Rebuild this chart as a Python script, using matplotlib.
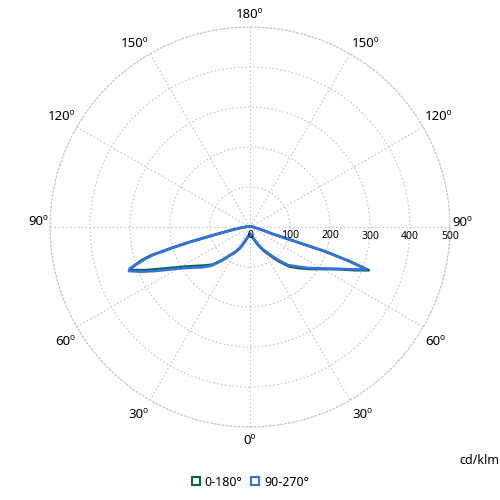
import numpy as np
import matplotlib
matplotlib.use("Agg")
import matplotlib.pyplot as plt
from matplotlib.lines import Line2D

plt.rcParams['font.family'] = ['Noto Sans', 'DejaVu Sans']

# gamma angles (deg from nadir) and intensities in cd/klm
gamma = [0, 5, 10, 15, 20, 25, 30, 35, 40, 45, 50, 55, 60, 65, 67.5, 70, 71,
         72, 73, 74, 75, 76, 78, 80, 85, 90, 105, 120, 135, 150, 165, 180]

# plane C0 (right) / C180 (left)
c0 = [17.5, 19.5, 23, 28, 37, 52, 68, 86, 112, 140, 160, 183, 210, 250, 282, 316, 265,
      198, 62, 48, 40, 33, 24, 18, 11, 8, 5, 3, 2, 2, 2, 2]
c180 = [17.5, 19.5, 24, 30, 41, 58, 72, 86, 108, 133, 150, 170, 200, 248, 282, 316, 312,
        298, 282, 258, 205, 160, 85, 55, 24, 12, 5, 3, 2, 2, 2, 2]

# plane C90 (right) / C270 (left)
c90 = [17.5, 19.5, 23, 27, 36, 50, 64, 81, 106, 135, 154, 179, 207, 248, 277, 310, 261,
       195, 58, 48, 40, 33, 24, 18, 11, 8, 5, 3, 2, 2, 2, 2]
c270 = [17.5, 19.5, 23, 28, 38, 55, 70, 85, 110, 137, 157, 177, 208, 260, 292, 322, 318,
        294, 275, 250, 195, 150, 77, 50, 22, 12, 5, 3, 2, 2, 2, 2]

series_names = ['0-180°', '90-270°']
colors = ['#00693e', '#3471e6']

r_ticks = [100, 200, 300, 400, 500]
angle_labels = ['0º', '30º', '60º', '90º', '120º', '150º', '180º',
                '150º', '120º', '90º', '60º', '30º']


def full_curve(right, left):
    g = np.array(gamma, dtype=float)
    theta = np.concatenate([g, 360 - g[::-1]])
    r = np.concatenate([np.array(right), np.array(left)[::-1]])
    return np.radians(theta), r


fig = plt.figure(figsize=(5, 5), dpi=100)
ax = fig.add_axes([0.1, 0.146, 0.8, 0.8], projection='polar')
ax.set_theta_zero_location('S')
ax.set_theta_direction(1)
ax.set_ylim(0, 500)
ax.set_rticks(r_ticks)
ax.set_yticklabels([])
ax.set_thetagrids(np.arange(0, 360, 30), [''] * 12)
ax.grid(True, color='#c4c4c4', linestyle=(0, (1.5, 2)), linewidth=0.8)
ax.spines['polar'].set_color('#c4c4c4')
ax.spines['polar'].set_linestyle((0, (1.5, 2)))
ax.spines['polar'].set_linewidth(0.8)
ax.tick_params(pad=0)

for (right, left), col in zip([(c0, c180), (c90, c270)], colors):
    th, r = full_curve(right, left)
    ax.plot(th, r, color=col, linewidth=1.9, solid_joinstyle='round')

# angle labels around the outer circle
dys = {0: -13, 30: -14, 60: -14.5, 90: 5, 120: 11, 150: 10, 180: 12}
for i, lab in enumerate(angle_labels):
    a = i * 30
    g = a if a <= 180 else 360 - a
    if a in (0, 180):
        ha, dx = 'center', 0
    elif a < 180:
        ha, dx = 'left', 2
    else:
        ha, dx = 'right', -2
    ax.annotate(lab, xy=(np.radians(a), 500), xytext=(dx, dys[g]),
                textcoords='offset pixels', ha=ha, va='center', fontsize=9.5,
                annotation_clip=False)

# radial labels along the right horizontal axis
for rv in [0] + r_ticks:
    ax.annotate(str(rv), xy=(np.radians(90), rv), xytext=(0, -9),
                textcoords='offset pixels', ha='center', va='center', fontsize=7.5,
                annotation_clip=False)

fig.text(0.998, 0.08, 'cd/klm', ha='right', va='center', fontsize=9)

handles = [Line2D([], [], marker='s', linestyle='none', markerfacecolor='white',
                  markeredgecolor=c, markeredgewidth=1.5, markersize=6) for c in colors]
fig.legend(handles, series_names, loc='center', bbox_to_anchor=(0.5, 0.036), ncol=2,
           frameon=False, fontsize=9, handletextpad=0.3, columnspacing=0.6,
           handlelength=0.8)

fig.savefig('out.png', dpi=100)
